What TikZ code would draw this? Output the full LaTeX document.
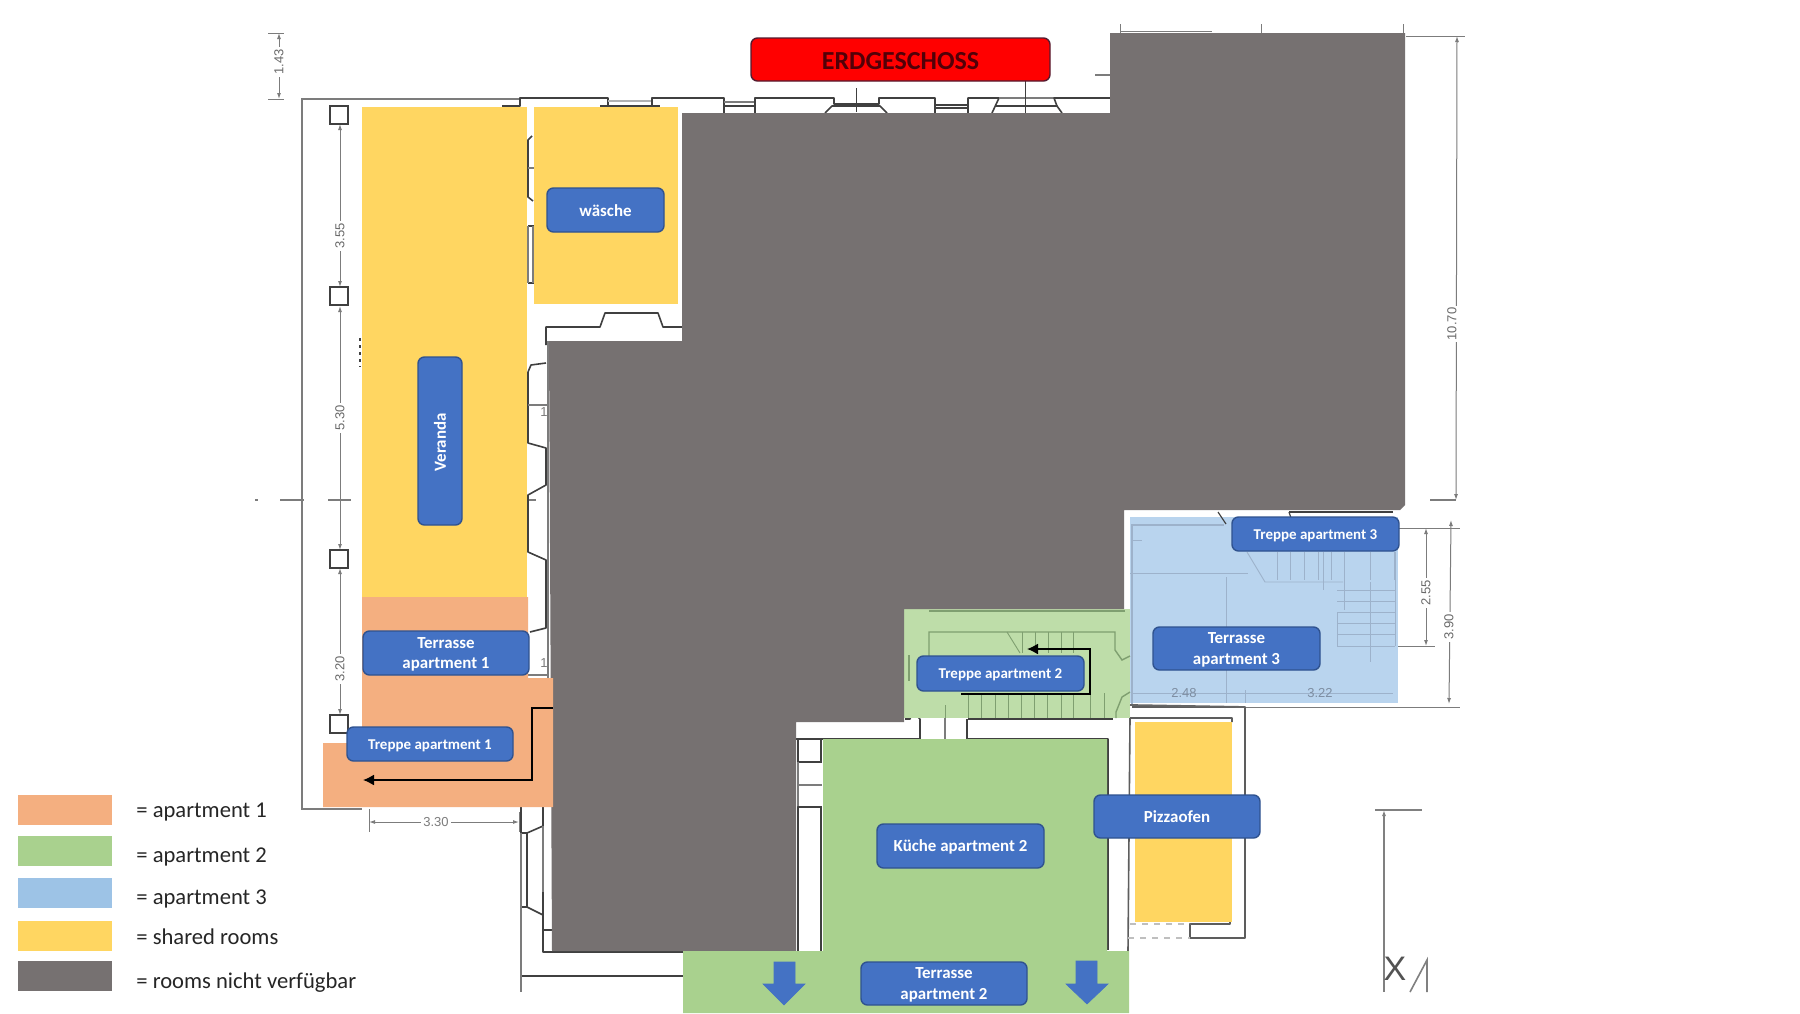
\documentclass[tikz,border=0pt]{standalone}
\usepackage{fontspec}
\setmainfont{Carlito}
\newfontfamily\dimfont{Liberation Sans}
\usetikzlibrary{arrows.meta}
\definecolor{cOrange}{HTML}{F4AF80}
\definecolor{cGreen}{HTML}{A9D18E}
\definecolor{cGreenL}{HTML}{BEDDA9}
\definecolor{cBlueL}{HTML}{B9D4EE}
\definecolor{cBlue}{HTML}{9DC3E6}
\definecolor{cYellow}{HTML}{FFD661}
\definecolor{cGrey}{HTML}{767171}
\definecolor{cLab}{HTML}{4472C4}
\definecolor{cLabE}{HTML}{2F528F}
\definecolor{cWall}{HTML}{404040}
\definecolor{cThin}{HTML}{7C7C7C}
\definecolor{cStairG}{HTML}{7F9F70}
\definecolor{cStairB}{HTML}{9DB2CB}
\definecolor{cTitle}{HTML}{520008}
\def\lbshift{-0.7pt}
\tikzset{
  x=0.5pt,y=-0.5pt,
  wall/.style={draw=cWall,line width=0.8pt,line join=round},
  thin wall/.style={draw=cThin,line width=0.55pt},
  outline wall/.style={draw=cThin,line width=0.95pt},
  dimline/.style={draw=cThin,line width=0.5pt},
  dimarrow/.style={draw=cThin,line width=0.5pt,{Latex[length=3pt,width=2pt]}-{Latex[length=3pt,width=2pt]}},
  dimtext/.style={text=cThin!85!black,font=\dimfont\fontsize{6.5}{7}\selectfont,rotate=90,fill=white,inner sep=1pt},
  dimplain/.style={text=cThin,font=\dimfont\fontsize{6.5}{7}\selectfont,inner sep=1pt},
  sgreen/.style={draw=cStairG,line width=0.45pt},
  sblue/.style={draw=cStairB,line width=0.45pt},
  lab/.style={draw=cLabE,line width=0.7pt,fill=cLab,rounded corners=3.2pt,inner sep=0pt},
  labtext/.style={text=white,align=center,inner sep=0pt,yshift=\lbshift,
     font=\bfseries\fontsize{8.45}{10.3}\selectfont},
  smalllab/.style={font=\bfseries\fontsize{7.5}{9}\selectfont},
  legtext/.style={anchor=west,inner sep=0pt,text=black!85,font=\fontsize{11.3}{12}\selectfont},
  flow/.style={draw=black,line width=0.8pt,-{Latex[length=5.5pt,width=5.5pt]}},
  colsq/.style={draw=cWall,line width=1.1pt,fill=white},
  downarrow/.style={fill=cLab,draw=cLab,line width=0.3pt},
}
\newcommand\labelbox[7][]{%
  \pgfmathsetmacro\bxcx{(#3+#5)/2}%
  \pgfmathsetmacro\bxcy{(#4+#6)/2}%
  \pgfmathsetmacro\bxw{(#5-#3)*0.5}%
  \pgfmathsetmacro\bxh{(#6-#4)*0.5}%
  \node[lab,minimum width=\bxw pt,minimum height=\bxh pt,#1] (#2) at (\bxcx,\bxcy) {};
  \node[labtext,#1] (#2 text) at (#2.center) {#7};}
\begin{document}
\begin{tikzpicture}
\useasboundingbox (0,0) rectangle (1800,1013);
\fill[white] (0,0) rectangle (1800,1013);

% --- plan: outer outline and dimensions on the left
\draw[outline wall] (520,99) -- (302,99) -- (302,809) -- (362,809);
\draw[dimline] (268,33) -- (284,33) (268,99) -- (284,99);
\draw[dimarrow] (279,33) -- (279,99);
\node[dimtext] (d143) at (279,62) {1.43};
\draw[dimarrow] (340,124) -- (340,287);
\node[dimtext] (d355) at (340,236) {3.55};
\draw[dimarrow] (340,306) -- (340,550);
\node[dimtext] (d530) at (340,418) {5.30};
\draw[dimarrow] (340,568) -- (340,715);
\node[dimtext] (d320) at (340,669) {3.20};
\node[colsq,minimum size=9pt,inner sep=0pt] (c1) at (339,115) {};
\node[colsq,minimum size=9pt,inner sep=0pt] (c2) at (339,296) {};
\node[colsq,minimum size=9pt,inner sep=0pt] (c3) at (339,559) {};
\node[colsq,minimum size=9pt,inner sep=0pt] (c4) at (339,724) {};
\draw[dimline,line width=0.7pt] (255,500) -- (258,500) (280,500) -- (304,500) (328,500) -- (351,500) (528,500) -- (536,500);
\draw[dimline] (369,809) -- (369,832) (519,812) -- (519,832);
\draw[dimarrow] (369,822) -- (519,822);
\node[dimplain,fill=white] (d330) at (436,822) {3.30};
\draw[cWall,line width=0.6pt,dash pattern=on 1.5pt off 2pt] (360,338) -- (360,367);

% --- plan: north wall
\draw[wall] (502,106) -- (520,106) -- (520,98) -- (608,98) -- (608,105);
\draw[wall] (600,106) -- (660,106);
\draw[thin wall,line width=1pt,draw=gray!60] (608,101) -- (652,101);
\draw[wall] (652,105) -- (652,98) -- (724,98) -- (724,113);
\draw[wall] (724,106) -- (755,106);
\draw[thin wall] (724,102) -- (755,102);
\draw[wall] (755,113) -- (755,98) -- (834,98) -- (834,104) -- (879,104) -- (879,98) -- (935,98) -- (935,113);
\draw[wall] (825,113) -- (832,106) -- (880,106) -- (887,113);
\draw[wall] (935,105) -- (968,105) (935,108) -- (968,108);
\draw[wall] (968,113) -- (968,98) -- (999,98) -- (992,113);
\draw[wall] (996,106) -- (1057,106) -- (1062,113);
\draw[thin wall] (999,98) -- (1054,98);
\draw[wall] (1057,106) -- (1054,98) -- (1111,98);
\draw[dimline,draw=cWall] (856,88) -- (856,112) (1025,81) -- (1025,113);
\draw[dimline,line width=1pt] (1095,75) -- (1111,75);
\draw[dimline] (1120,24) -- (1120,33) (1261,24) -- (1261,33) (1403,24) -- (1403,33);
\draw[dimline] (1120,31) -- (1212,31);

% --- plan: right hand dimensions
\draw[dimline] (1406,36) -- (1465,36);
\draw[dimarrow] (1457,36) -- (1456,500);
\node[dimtext] (d1070) at (1452,324) {10.70};
\draw[dimline,line width=0.7pt] (1430,500) -- (1456,500);
\draw[dimline] (1398,528) -- (1460,528) (1398,646) -- (1435,646) (1245,707) -- (1460,707);
\draw[dimarrow] (1426,528) -- (1426,646);
\node[dimtext] (d255) at (1426,593) {2.55};
\draw[dimarrow] (1451,520) -- (1449,704);
\node[dimtext] (d390) at (1449,627) {3.90};

% --- plan: west wall of the house
\draw[wall] (532,136) -- (528,140) -- (528,197) -- (533,201);
\draw[thin wall] (528,168) -- (534,168);
\draw[wall] (528,226) -- (534,226) (528,283) -- (534,283);
\draw[thin wall] (528,226) -- (528,283) (533,226) -- (533,283);
\draw[wall] (546,345) -- (546,327) -- (600,327) -- (605,313) -- (658,313) -- (663,327) -- (683,327);
\draw[wall] (528,372) -- (531,365) -- (546,363);
\draw[wall] (528,372) -- (528,443) -- (546,448) -- (546,485) -- (528,495) -- (528,552) -- (546,560) -- (546,628) -- (530,632);
\draw[thin wall] (548,341) -- (548,680) (528,405) -- (548,405) (528,675) -- (548,675);
\node[dimplain] (t1a) at (544,412) {1};
\node[dimplain] (t1b) at (544,663) {1};

% --- plan: south west corner
\draw[wall] (521,807) -- (521,833) -- (527,833) -- (543,826) -- (543,807);
\draw[wall] (527,833) -- (527,907) -- (520,907);
\draw[wall] (527,907) -- (543,915);
\draw[wall] (521,907) -- (521,976) -- (683,976);
\draw[wall] (543,892) -- (543,952) -- (683,952);
\draw[wall] (543,930) -- (552,930);
\draw[thin wall] (521,833) -- (521,992) (543,826) -- (543,892);

% --- plan: kitchen surround
\draw[wall] (798,740) -- (798,762) -- (822,762);
\draw[thin wall] (798,785) -- (822,785) (798,762) -- (798,807);
\draw[wall] (822,807) -- (798,807) -- (798,952);
\draw[wall] (821,739) -- (821,762) (821,807) -- (821,951);
\draw[wall] (796,739) -- (920,739) -- (920,719) (967,719) -- (967,739) -- (1108,739) -- (1108,950);
\draw[wall] (968,719) -- (1113,719);
\draw[thin wall] (945,705) -- (945,739);
\draw[wall] (905,719) -- (910,719) -- (911,716) -- (917,716) -- (920,719);

% --- plan: pizza oven surround
\draw[wall,draw=cWall!85] (1132,707) -- (1245,707) -- (1245,938) -- (1190,938) -- (1190,924) -- (1230,924) -- (1230,918);
\draw[wall,draw=cWall!85] (1232,722) -- (1232,718) -- (1130,718) -- (1128,951);
\draw[dimline,line width=0.7pt,dashed,draw=gray!50] (1130,924) -- (1190,924) (1128,938) -- (1190,938);

% --- north arrow
\draw[dimline,line width=0.8pt,draw=gray] (1375,810) -- (1422,810);
\draw[dimline,line width=0.8pt,draw=gray,{Latex[length=3pt,width=2pt]}-] (1384,810) -- (1384,992);
\node[inner sep=0pt,text=cWall!90,font=\dimfont\fontsize{17}{17}\selectfont] (xmark) at (1395,969) {X};
\draw[dimline,line width=0.8pt,draw=gray] (1410,992) -- (1427,960) -- (1427,992);

% --- light regions
\fill[cGreenL] (904,609) rectangle (1130,718);
\begin{scope}[xshift=-1pt]
\fill[cBlueL] (1132,517) rectangle (1400,703);
% --- stair lines apartment 3
\draw[sblue,line width=0.8pt] (1134,705) -- (1134,525) -- (1226,525);
\draw[sblue] (1134,540) -- (1144,540) (1132,573) -- (1250,573);
\draw[wall,line width=0.6pt] (1220,512) -- (1228,524);
\draw[wall,line width=0.6pt] (1291,512) -- (1293,518);
\draw[wall,line width=0.6pt] (1291,512) -- (1395,512);
\draw[sblue] (1249,552) -- (1267,582) -- (1345,582);
\foreach \sx in {1279,1292,1306,1320,1333,1346,1372,1396}{\draw[sblue] (\sx,552) -- (\sx,580);}
\draw[sblue] (1346,552) -- (1346,610) (1397,552) -- (1397,646);
\foreach \sy in {590,601,612,623,634,646}{\draw[sblue] (1339,\sy) -- (1397,\sy);}
\draw[sblue] (1339,612) -- (1339,646) (1372,582) -- (1372,662);
\draw[sblue] (1228,577) -- (1228,703) (1325,552) -- (1325,590);
\draw[sblue] (1134,693) -- (1395,693) (1247,690) -- (1247,703);
\node[dimplain,text=cStairB!80!black] (d248) at (1186,693) {2.48};
\node[dimplain,text=cStairB!80!black] (d322) at (1322,693) {3.22};
\end{scope}

% --- stair lines apartment 2
\draw[sgreen,line width=0.8pt] (929,611) -- (1125,611);
\draw[sgreen,line width=0.7pt] (929,656) -- (929,632) -- (1115,632) -- (1115,650) -- (1122,660) -- (1130,656);
\draw[sgreen,line width=0.7pt] (909,655) -- (909,681);
\draw[sgreen,line width=0.7pt] (1130,692) -- (1122,697) -- (1116,712) -- (1116,718);
\draw[sgreen] (1007,632) -- (1020,653);
\foreach \sx in {1022,1035,1048,1061,1073}{\draw[sgreen] (\sx,632) -- (\sx,653);}
\foreach \sx in {968,981,995,1008,1021,1034,1047,1061,1073,1090,1104}{\draw[sgreen] (\sx,693) -- (\sx,718);}
\draw[sgreen] (945,705) -- (945,718);
\draw[wall,line width=0.9pt,draw=cWall!80] (1130,705) -- (1245,707);

% --- opaque regions
\fill[cYellow] (362,107) rectangle (527,597);
\fill[cYellow] (534,107) rectangle (678,304);
\fill[cYellow] (1135,722) rectangle (1232,922);
\fill[cGrey] (682,113) -- (1110,113) -- (1110,33) -- (1405,33) -- (1405,505) -- (1400,510) -- (1124,510)
  -- (1124,609) -- (904,609) -- (904,722) -- (796,722) -- (796,951) -- (552,951) -- (549,341) -- (682,341) -- cycle;
\fill[cOrange] (362,597) -- (528,597) -- (528,678) -- (553,678) -- (553,807) -- (323,807) -- (323,743) -- (362,743) -- cycle;
\fill[cGreen] (823,739) -- (1107,739) -- (1107,951) -- (1129,951) -- (1129,1013) -- (683,1013) -- (683,951) -- (823,951) -- cycle;

% --- flow arrows
\coordinate (a1s) at (553,708);
\coordinate (a1b) at (532,708);
\coordinate (a1c) at (532,780);
\coordinate (a1e) at (363,780);
\draw[flow] (a1s) -- (a1b) -- (a1c) -- (a1e);
\coordinate (a2s) at (961,694);
\coordinate (a2b) at (1090,694);
\coordinate (a2c) at (1090,649);
\coordinate (a2e) at (1027,649);

% --- labels
\node[lab,fill=red,draw=cLabE!55!red!60!black,minimum width=149.5pt,minimum height=21.5pt] (title) at (900.5,59.5) {};
\node[labtext,text=cTitle,font=\bfseries\fontsize{13}{15}\selectfont] (title text) at (title.center) {ERDGESCHOSS};
\labelbox[rotate=90]{veranda}{356}{419}{524}{463}{Veranda}
\labelbox{terr1}{363}{631}{529}{675}{Terrasse\\apartment 1}
\labelbox[smalllab]{trep1}{347}{727}{513}{761}{Treppe apartment 1}
\labelbox[smalllab]{trep2}{917}{656}{1084}{691}{Treppe apartment 2}
\labelbox[smalllab]{trep3}{1232}{517}{1399}{551}{Treppe apartment 3}
\labelbox{terr3}{1153}{627}{1320}{670}{Terrasse\\apartment 3}
\labelbox{terr2}{861}{962}{1027}{1005}{Terrasse\\apartment 2}
\def\lbshift{-0.2pt}
\labelbox{waesche}{547}{188}{664}{232}{wäsche}
\labelbox{pizza}{1094}{795}{1260}{838}{Pizzaofen}
\labelbox{kueche}{877}{824}{1044}{868}{Küche apartment 2}
\draw[flow] (a2s) -- (a2b) -- (a2c) -- (a2e);

% --- down arrows
\draw[downarrow] (774,962) -- (795,962) -- (795,984) -- (805,984) -- (784,1005) -- (763,984) -- (774,984) -- cycle;
\draw[downarrow] (1076,961) -- (1097,961) -- (1097,984) -- (1108,984) -- (1087,1004) -- (1066,984) -- (1076,984) -- cycle;

% --- legend
\fill[cOrange] (18,795) rectangle (112,825);
\fill[cGreen] (18,836) rectangle (112,866);
\fill[cBlue] (18,878) rectangle (112,908);
\fill[cYellow] (18,921) rectangle (112,951);
\fill[cGrey] (18,961) rectangle (112,991);
\node[legtext] (l1) at (136,812.5) {= apartment 1};
\node[legtext] (l2) at (136,857) {= apartment 2};
\node[legtext] (l3) at (136,899) {= apartment 3};
\node[legtext] (l4) at (136,936.5) {= shared rooms};
\node[legtext] (l5) at (136,983) {= rooms nicht verfügbar};
\end{tikzpicture}
\end{document}
